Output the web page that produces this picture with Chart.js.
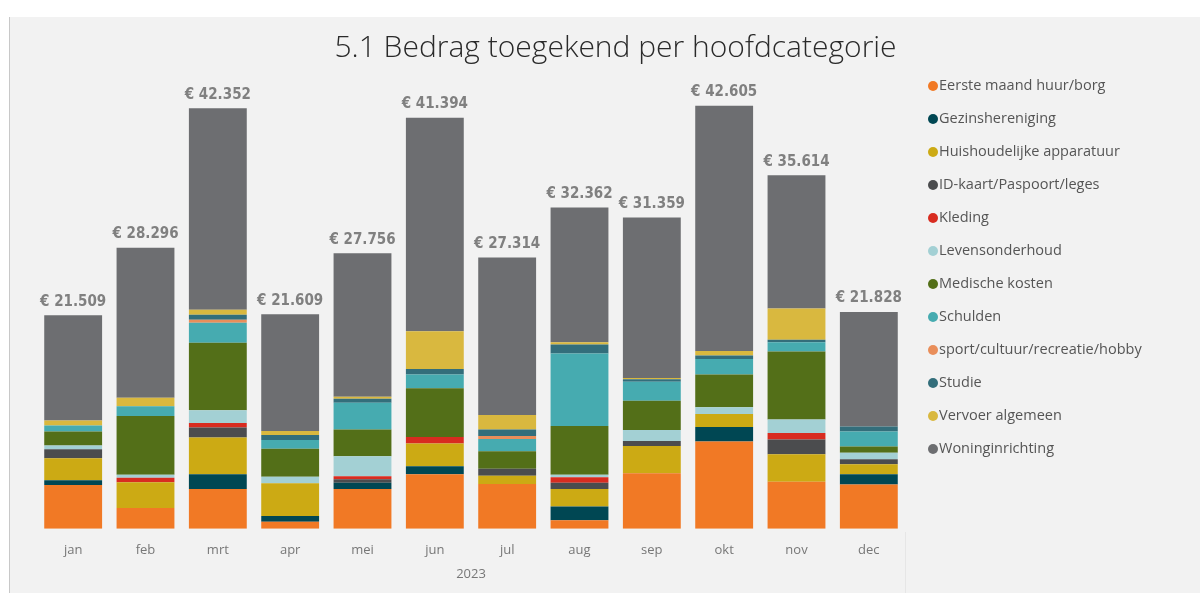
<!DOCTYPE html>
<html>
<head>
<meta charset="utf-8">
<script src="https://cdn.jsdelivr.net/npm/chart.js@4.4.1/dist/chart.umd.min.js"></script>
<style>
  html, body { margin: 0; padding: 0; background: #fff; width: 1200px; height: 593px; overflow: hidden; }
  #panel { position: absolute; left: 9px; top: 17px; width: 1191px; height: 576px; background: #f2f2f2; border-left: 1px solid #c8c8c8; }
  #wrap { position: absolute; left: 0; top: 0; width: 1191px; height: 576px; }
  #title { position: absolute; left: 10px; top: 11px; width: 1191px; text-align: center; font-family: 'Open Sans', 'Noto Sans', sans-serif; font-weight: 300; font-size: 30px; line-height: 36px; color: #2a2a2a; }
  #legend { position: absolute; left: 918px; top: 57px; font-family: 'Open Sans', 'Noto Sans', sans-serif; font-size: 14.5px; color: #555; }
  #legend div { height: 33px; line-height: 22px; white-space: nowrap; }
  #legend span.dot { display: inline-block; width: 10px; height: 10px; border-radius: 50%; margin-right: 1px; vertical-align: -1px; }
  #axisEnd { position: absolute; left: 895px; top: 515px; width: 1px; height: 61px; background: #e6e6e6; }
</style>
</head>
<body>
<div id="panel">
  <div id="wrap"><canvas id="chart"></canvas></div>
  <div id="title">5.1 Bedrag toegekend per hoofdcategorie</div>
  <div id="axisEnd"></div>
  <div id="legend"></div>
</div>
<script>
// months and per-category amounts (euro)
const months = ['jan', 'feb', 'mrt', 'apr', 'mei', 'jun', 'jul', 'aug', 'sep', 'okt', 'nov', 'dec'];
const totals = [21509, 28296, 42352, 21609, 27756, 41394, 27314, 32362, 31359, 42605, 35614, 21828];

const eersteMaand   = [4400, 2100, 4000, 700, 4000, 5500, 4500, 850, 5600, 8800, 4750, 4450];
const gezins        = [500, 0, 1500, 600, 650, 800, 0, 1400, 0, 1450, 0, 1050];
const huishoudelijk = [2200, 2600, 3700, 3300, 0, 2300, 850, 1750, 2750, 1300, 2750, 1000];
const idKaart       = [900, 0, 1000, 0, 350, 0, 700, 650, 500, 0, 1500, 500];
const kleding       = [0, 450, 450, 0, 300, 650, 0, 550, 0, 0, 650, 0];
const levens        = [400, 300, 1300, 650, 2000, 0, 0, 250, 1100, 700, 1350, 650];
const medisch       = [1400, 5900, 6800, 2800, 2700, 4900, 1750, 4900, 2950, 3300, 6850, 650];
const schulden      = [600, 1000, 2000, 900, 2700, 1400, 1250, 7300, 1900, 1550, 950, 1500];
const sport         = [0, 0, 300, 0, 0, 0, 300, 0, 0, 0, 0, 0];
const studie        = [0, 0, 500, 500, 400, 550, 650, 900, 250, 350, 250, 500];
const vervoer       = [500, 850, 500, 400, 200, 3800, 1450, 250, 150, 450, 3150, 0];
const woning        = [10609, 15096, 20302, 11759, 14456, 21494, 15864, 13562, 16159, 24705, 13414, 11528];

const series = [
  { label: 'Eerste maand huur/borg', data: eersteMaand, color: '#f17925' },
  { label: 'Gezinshereniging', data: gezins, color: '#004753' },
  { label: 'Huishoudelijke apparatuur', data: huishoudelijk, color: '#ccaa14' },
  { label: 'ID-kaart/Paspoort/leges', data: idKaart, color: '#4b4c4e' },
  { label: 'Kleding', data: kleding, color: '#d82c20' },
  { label: 'Levensonderhoud', data: levens, color: '#a3d0d4' },
  { label: 'Medische kosten', data: medisch, color: '#536f18' },
  { label: 'Schulden', data: schulden, color: '#46abb0' },
  { label: 'sport/cultuur/recreatie/hobby', data: sport, color: '#e98e5a' },
  { label: 'Studie', data: studie, color: '#336e7b' },
  { label: 'Vervoer algemeen', data: vervoer, color: '#d9b83f' },
  { label: 'Woninginrichting', data: woning, color: '#6d6e71' },
];

// legend (html, built from the series list)
const legendEl = document.getElementById('legend');
series.forEach(s => {
  const row = document.createElement('div');
  row.innerHTML = '<span class="dot" style="background:' + s.color + '"></span>' + s.label;
  legendEl.appendChild(row);
});

const euro = v => '\u20ac ' + String(v).replace(/\B(?=(\d{3})+(?!\d))/g, '.');

// total labels above each stack
const totalLabels = {
  id: 'totalLabels',
  afterDatasetsDraw(chart) {
    const { ctx } = chart;
    const meta = chart.getDatasetMeta(series.length - 1);
    ctx.save();
    ctx.font = 'bold 15px "DejaVu Sans Condensed", "Liberation Sans Narrow", sans-serif';
    ctx.fillStyle = '#808080';
    ctx.textAlign = 'center';
    ctx.textBaseline = 'bottom';
    meta.data.forEach((bar, i) => {
      const y = chart.scales.y.getPixelForValue(totals[i]);
      ctx.fillText(euro(totals[i]), bar.x, y - 6);
    });
    ctx.restore();
  },
};

new Chart(document.getElementById('chart'), {
  type: 'bar',
  data: {
    labels: months,
    datasets: series.map(s => ({
      label: s.label,
      data: s.data,
      backgroundColor: s.color,
      borderWidth: 0,
      barPercentage: 0.8,
      categoryPercentage: 1,
    })),
  },
  options: {
    responsive: true,
    maintainAspectRatio: false,
    animation: false,
    layout: { padding: { left: 27, right: 296, top: 65, bottom: 7 } },
    plugins: {
      legend: { display: false },
      tooltip: { enabled: false },
      title: { display: false },
    },
    scales: {
      x: {
        stacked: true,
        grid: { display: false },
        border: { display: false },
        ticks: { color: '#777', padding: 6, font: { family: "'Open Sans', 'Noto Sans', sans-serif", size: 13 } },
        title: { display: true, text: '2023', color: '#777', padding: { top: 2 }, font: { family: "'Open Sans', 'Noto Sans', sans-serif", size: 13 } },
      },
      y: {
        stacked: true,
        display: false,
        min: 0,
        max: 45000,
      },
    },
  },
  plugins: [totalLabels],
});
</script>
</body>
</html>
